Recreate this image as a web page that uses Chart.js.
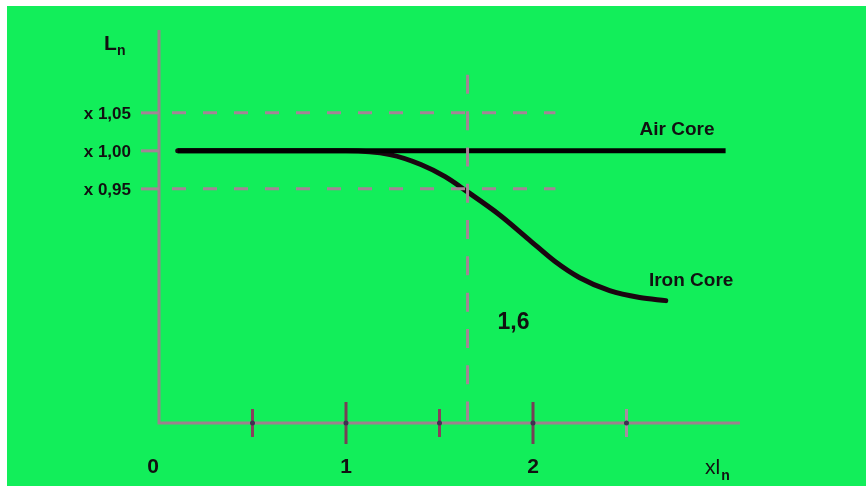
<!DOCTYPE html>
<html>
<head>
<meta charset="utf-8">
<script src="https://cdn.jsdelivr.net/npm/chart.js@4/dist/chart.umd.min.js"></script>
<style>
    html, body { margin: 0; padding: 0; background: #fff; }
    #wrap { position: absolute; left: 7px; top: 6px; width: 859px; height: 480px; background: rgb(18, 238, 90); }
</style>
</head>
<body>
<div id="wrap"><canvas id="myChart" width="859" height="480"></canvas></div>
<script>
// air core: flat at 1.00
let airX = [0.1, 3.03];
let airY = [1.0, 1.0];

// iron core: falls off after saturation
let ironX = [0.1, 0.6, 1.0, 1.235, 1.40, 1.53, 1.65, 1.82, 1.98, 2.12, 2.25, 2.41, 2.57, 2.71];
let ironY = [1.0, 1.0, 1.0, 0.995, 0.982, 0.966, 0.946, 0.916, 0.883, 0.854, 0.833, 0.816, 0.807, 0.803];

// reference lines
let bandLevels = [1.05, 0.95];
let bandEnd = 2.12;
let markX = 1.65;
let markTop = 1.10;

// axis ticks
let xTicks = [0.5, 1, 1.5, 2, 2.5];
let xLabels = ['0', '1', '2'];
let xLabelValues = [0, 1, 2];
let yTicks = [1.05, 1.00, 0.95];
let yLabels = ['x 1,05', 'x 1,00', 'x 0,95'];

// text notes: [text, x, y]
let notes = [
    ['Air Core', 2.57, 1.028],
    ['Iron Core', 2.62, 0.829],
    ['1,6', 1.81, 0.774]
];

function toPoints(xs, ys) {
    return xs.map(function (x, i) { return {x: x, y: ys[i]}; });
}

let dashColor = 'rgb(165, 132, 150)';
let axisColor = 'rgb(158, 128, 142)';
let tickColors = {0.5: 'rgb(138, 62, 92)', 1: 'rgb(118, 64, 86)', 1.5: 'rgb(138, 62, 92)', 2: 'rgb(118, 64, 86)', 2.5: 'rgb(168, 140, 160)'};
let font = '"Liberation Sans", Arial, sans-serif';

let datasets = [];
bandLevels.forEach(function (level) {
    datasets.push({
        data: [{x: 0, y: level}, {x: bandEnd, y: level}],
        borderColor: dashColor,
        borderWidth: 3,
        borderDash: [14, 17],
        borderDashOffset: 18,
        pointRadius: 0
    });
});
datasets.push({
    data: [{x: markX, y: markTop}, {x: markX, y: 0.642}],
    borderColor: dashColor,
    borderWidth: 3,
    borderDash: [19, 17.3],
    pointRadius: 0
});
datasets.push({
    data: toPoints(airX, airY),
    borderColor: '#000',
    borderWidth: 5,
    pointRadius: 0
});
datasets.push({
    data: toPoints(ironX, ironY),
    borderColor: '#1a0610',
    borderWidth: 5,
    borderCapStyle: 'round',
    cubicInterpolationMode: 'monotone',
    pointRadius: 0
});

let decorations = {
    id: 'decorations',
    afterDraw(chart) {
        let ctx = chart.ctx;
        let xs = chart.scales.x;
        let ys = chart.scales.y;
        let area = chart.chartArea;
        ctx.save();

        // axes
        ctx.strokeStyle = axisColor;
        ctx.lineWidth = 3;
        ctx.beginPath();
        ctx.moveTo(area.left, area.top);
        ctx.lineTo(area.left, area.bottom);
        ctx.lineTo(area.right, area.bottom);
        ctx.stroke();

        // x ticks cross the axis
        xTicks.forEach(function (v) {
            let px = xs.getPixelForValue(v);
            let len = Number.isInteger(v) ? 21 : 14;
            ctx.strokeStyle = tickColors[v];
            ctx.beginPath();
            ctx.moveTo(px, area.bottom - len);
            ctx.lineTo(px, area.bottom + len);
            ctx.stroke();
            ctx.fillStyle = 'rgb(60, 50, 80)';
            ctx.beginPath();
            ctx.arc(px, area.bottom, 2.5, 0, Math.PI * 2);
            ctx.fill();
        });

        // y ticks to the left
        ctx.strokeStyle = dashColor;
        yTicks.forEach(function (v) {
            let py = ys.getPixelForValue(v);
            ctx.beginPath();
            ctx.moveTo(area.left - 18, py);
            ctx.lineTo(area.left, py);
            ctx.stroke();
        });

        ctx.fillStyle = '#111';
        ctx.textBaseline = 'middle';

        ctx.font = 'bold 17px ' + font;
        ctx.textAlign = 'right';
        yTicks.forEach(function (v, i) {
            ctx.fillText(yLabels[i], area.left - 28, ys.getPixelForValue(v) + 1);
        });

        ctx.font = 'bold 21px ' + font;
        ctx.textAlign = 'center';
        xLabelValues.forEach(function (v, i) {
            let px = xs.getPixelForValue(v) - (v === 0 ? 6 : 0);
            ctx.fillText(xLabels[i], px, area.bottom + 44);
        });

        // notes
        ctx.textAlign = 'left';
        notes.forEach(function (n) {
            ctx.font = n[0] === '1,6' ? 'bold 23px ' + font : 'bold 19px ' + font;
            ctx.fillText(n[0], xs.getPixelForValue(n[1]), ys.getPixelForValue(n[2]));
        });

        // axis names
        ctx.textBaseline = 'alphabetic';
        ctx.font = 'bold 21px ' + font;
        ctx.fillText('L', 97, 44);
        ctx.font = 'bold 14px ' + font;
        ctx.fillText('n', 110, 49);

        ctx.font = '21px ' + font;
        ctx.fillText('xl', 698, 468);
        let w = ctx.measureText('xl').width;
        ctx.font = 'bold 14px ' + font;
        ctx.fillText('n', 699 + w, 474);

        ctx.restore();
    }
};

new Chart(document.getElementById('myChart').getContext('2d'), {
    type: 'line',
    data: {datasets: datasets},
    options: {
        responsive: false,
        animation: false,
        layout: {padding: {left: 152, right: 126, top: 24, bottom: 63}},
        plugins: {legend: {display: false}, tooltip: {enabled: false}},
        scales: {
            x: {
                type: 'linear', min: 0, max: 3.107,
                display: false
            },
            y: {
                type: 'linear', min: 0.642, max: 1.159,
                display: false
            }
        }
    },
    plugins: [decorations]
});
</script>
</body>
</html>
